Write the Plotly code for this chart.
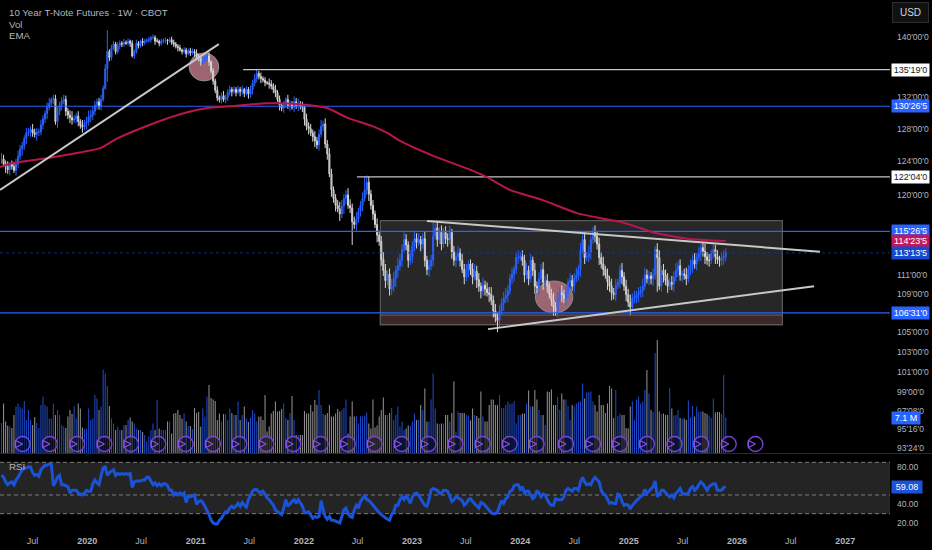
import math
import pandas as pd
import plotly.graph_objects as go

CLOSE = [124.3,123.7,123.4,123.0,123.6,123.4,122.9,123.7,124.6,125.5,
125.9,126.8,127.5,127.6,127.9, 127.5,127.3,127.6,127.6,128.5, 129.2,129.9,130.7,131.2,131.7,
131.8,128.9,130.2,131,131.5, 131.7,130.2,129.7,129.4,129.1, 129.2,129.6,128.9,128.4,
128.2,128.7,128.9,129.5,129.7, 130.2,131,131.4,130.8,131.7, 133.1,135.7,138,137.2,138.5,
139,138,138.8,139.1,139, 139.2,139.1,139.4,139.1, 137.4,138,139.1,138.8,139.4,
139.2,139.4,139.5,139.6,139.9, 139.9,139.4,139.4,139.1,139.4, 139.5,139.5,139.4,139.6,139.2,
139,138.7,138.5,138.2, 138,138.2,137.7,138.1,137.8, 138,137.8,137.4,137.1,136.6,
136.8,137.1,137.4,136.6,135.4, 134.1,132.9,131.9,131.7,132.2, 131.7,131.9,132.6,133,
132.7,133,132.6,133,132.7, 133,132.5,133,132.4,133, 133.8,134.4,135.1,134.7,134.4,
134.2,133.9,133.8,133.7,133.4, 133,132.6,131.7,131, 130.6,131.1,131.7,130.9,131.1,
130.7,131.4,130.9,131.2,130.9, 130.7,129.2,128.3,128,127.5, 127,126.5,126,127.3,128.3,
128.6,126.1,124.9,122.5, 120.6,119.6,118.8,118.4,117.8, 118.7,119.6,120,118.8,118.5,
116.9,116.6,117.2,118.1,118.8, 119.6,120.6,121.5,120.1,118.8, 117.8,116.6,115.4,114.7,
112.7,111.5,110.4,111.1,109.5, 109.8,110.6,111.5,112,112.6, 113.8,114.9,114.3,112.6,113,
114.2,115,114.6,114.9,114.4, 115,112.6,111.6,112, 112.6,115.3,116.2,114.9,115.7,
114.4,115.7,115,114.9,115.7, 113.5,112.6,113,113.4,112.6, 111.6,110.8,111.4,112.2,111.6,
110.8,111.4,110.5,109.8, 109.3,109.9,109.5,109.1,108.9, 108.3,107.2,106.6,106.2,107.2,
108,108.5,108.8,109.3,110.6, 111.1,111.6,112.9,112.9,113, 112.6,111,111.5,110.6,
112.6,111.5,109.8,109.6,110.6, 111.6,110.2,110.4,109.8,108.9, 108.3,107.6,107.2,108.5,109.1,
108.9,108.5,109.1,110.2,110.4, 109.8,110.6,111,111.6, 113.8,114.9,112.9,113,113.5,
114.9,115.7,115.3,114.4,112.9, 112.2,111.6,111,110.3,109.8, 109.1,108.9,109.9,110.2,111.5,
110.8,109.8,108.9,108.1, 107.6,108.5,108.6,108.9,109.1, 109.3,109.8,111,110.6,110.9,
110.6,111,113.8,112.9,109.8, 111.5,111,110.4,109.8,110.2, 110,110.8,111.5,112,
111,111.1,111,110.6,111.6, 112,112.6,112.2,112.9,113.4, 114,113.6,113,112.6,112.6,
113.4,113.8,113,112.7,112.6, 112.9,113.0,113.42]

# Upper and lower wick length of each week, in tenths of a point
HIGH_TENTHS = ("75463546755465475546546735564565468"
               "54637468765456465344354353424353243"
               "34243423342344334243344353453452435"
               "34644534353524354643534265463524365"
               "47563547564756847576456875687568457"
               "58756475687468759768647586746857685"
               "76857684768576845786748576857465786"
               "57468576857485768574685768574866857"
               "68574685768476857468576857465886547"
               "46857685768574685768574685748574675")
LOW_TENTHS = ("64857436548574654854657456485746576"
              "45647485765645364543435442352434353"
              "23435243345234352435243534534453544"
              "45354463526453657454635264563746547"
              "36475685746857465748574859746857467"
              "46857485768574698574685767485768574"
              "85746857685748576849685748576974857"
              "46857468574685768574695748576857468"
              "57468576857496857468575845685745768"
              "57468574685768574685749685746857685")

WICK_DATES = ["2020-03-09","2022-06-13","2022-07-25","2021-07-26","2023-10-16","2025-04-07","2022-10-24","2023-03-13","2020-03-02"]
WICK_HIGH = [140.9,None,122.2,135.6,None,114.5,None,116.8,None]
WICK_LOW = [134.0,114.3,None,None,105.0,109.2,108.9,None,133.0]

VOLUME = [6.0,9.9,6.3,5.5,5.3,5.0,7.6,9.3,9.9,9.2,8.9,10.4,6.6,8.6,6.6,5.6,7.2,6.0,5.0,9.6,11.3,9.6,9.3,6.9,6.9,
9.9,7.6,8.6,7.6,5.6,5.3,5.0,7.3,8.6,7.8,9.4,6.9,9.9,8.9,5.1,4.8,4.9,8.9,6.6,6.9,11.6,10.9,8.6,9.3,16.7,
15.9,13.4,9.4,6.9,5.9,4.6,5.3,4.6,4.6,5.6,5.6,6.6,7.1,6.3,5.9,4.9,4.6,4.6,4.2,3.6,2.3,3.3,4.6,5.9,4.6,
10.6,4.9,4.6,4.6,4.6,6.3,6.3,3.9,7.9,8.0,8.6,7.6,6.9,7.9,6.3,5.4,5.4,4.8,9.0,8.0,8.2,5.3,8.9,7.3,11.3,
13.6,11.0,10.7,10.4,6.6,7.9,6.3,7.8,7.8,6.6,8.9,8.0,7.6,7.6,10.3,6.6,7.6,9.3,6.9,6.2,7.1,8.6,7.9,6.3,7.3,
7.3,6.6,11.6,4.3,5.3,7.9,8.4,10.3,8.3,8.4,8.8,9.9,7.0,6.6,8.0,11.4,6.6,3.6,3.6,3.6,3.6,8.4,7.9,7.9,9.6,
8.3,10.6,9.6,12.6,9.6,7.8,7.6,8.0,9.6,7.3,7.3,7.9,8.8,8.3,8.6,9.0,10.7,3.9,7.3,10.3,7.3,7.4,5.9,7.4,7.3,
7.5,8.1,5.9,4.9,10.7,5.1,5.5,7.3,8.6,11.1,7.6,7.6,8.0,9.0,6.6,7.6,9.3,5.3,6.3,4.6,4.9,5.5,5.4,6.3,7.9,
6.6,6.6,9.6,8.6,12.9,6.3,6.3,10.7,15.9,8.9,5.9,5.8,5.9,5.9,7.6,7.6,6.3,8.0,14.3,4.3,8.3,8.0,8.0,8.0,
7.6,7.5,6.5,8.9,7.6,7.4,7.0,12.3,7.3,6.3,6.3,9.6,10.7,10.7,9.6,9.6,11.6,9.0,9.0,9.6,10.3,9.9,9.9,10.4,5.9,
7.6,7.6,7.9,7.9,9.9,12.5,9.3,9.3,12.6,10.7,8.6,7.6,7.6,5.6,12.3,12.2,12.7,9.6,9.6,11.2,8.6,11.9,10.7,10.7,9.4,
6.6,9.6,9.3,9.9,10.2,10.3,13.9,10.9,12.1,12.2,12.3,10.3,9.6,8.3,11.6,9.6,9.6,8.0,9.9,13.4,12.9,7.0,12.6,7.4,7.9,
7.6,7.6,5.0,4.9,9.3,10.3,6.6,10.7,11.3,9.9,10.3,12.6,16.6,11.9,8.6,8.2,20.0,22.6,8.3,7.8,7.9,7.6,7.6,13.0,8.9,
7.5,7.6,8.6,7.0,6.9,6.9,6.6,10.5,7.1,9.4,7.3,9.3,8.3,8.3,8.3,8.0,7.8,7.4,7.0,10.9,8.1,8.2,8.2,7.8,15.6,7.1]

RSI = [71.4,69,64,61,63,64,61,66,69,73,77,79,79,80,80,74,71,72,70,77,80,82,82,83,83,60,64,69,71,61,61,60,59,52,55,55,55,52,51,50,
52,55,54,54,62,66,63,61,71,79,80,71,74,76,77,71,73,72,73,72,73,72,73,58,64,65,65,65,66,66,69,69,65,61,63,60,62,60,62,62,
60,55,55,50,52,50,52,50,52,42,49,48,49,50,40,43,44,42,38,34,29,23,20,19,19,23,25,29,32,32,36,38,36,38,41,38,42,39,37,45,
50,54,56,56,53,53,54,50,47,45,42,39,34,32,30,29,36,45,38,41,43,45,41,45,42,38,31,31,32,29,25,27,26,27,44,34,27,24,27,23,
23,22,21,20,27,34,36,30,27,26,34,39,36,43,46,50,45,44,42,39,36,33,31,29,27,26,24,23,29,32,39,39,45,48,45,50,45,41,48,51,
52,50,46,43,39,38,45,55,57,56,55,52,52,55,55,54,48,43,45,48,47,45,44,39,41,45,46,43,41,38,36,42,41,39,36,34,31,30,30,32,
39,44,41,46,48,54,55,60,61,61,56,59,52,54,54,50,46,48,55,52,48,51,50,45,41,39,39,46,45,45,45,48,55,57,55,54,57,57,55,64,
69,64,61,62,61,66,69,66,64,55,51,50,45,41,42,41,41,51,50,43,39,40,39,35,39,42,44,46,48,50,56,52,54,56,59,65,48,51,55,55,
52,50,48,50,47,52,54,57,52,51,51,52,57,59,55,57,61,64,62,59,55,59,61,62,62,55,55,55,58,59.08]

EMA_DATES = ["2019-03-13","2019-04-25","2019-08-05","2019-10-25","2020-02-14","2020-04-12","2020-07-31","2020-10-30",
"2021-02-10","2021-05-08","2021-08-29","2021-12-19","2022-01-22","2022-03-20","2022-05-27","2022-08-22","2022-10-08",
"2022-11-21","2023-03-18","2023-07-15","2023-09-10","2023-11-26","2024-03-17","2024-07-10","2024-09-16","2024-12-03",
"2025-02-08","2025-03-24","2025-07-16","2025-11-24"]
EMA_VALUES = [123.3,123.8,124.3,124.8,125.6,126.8,128.5,129.7,130.6,130.85,131.2,131.1,130.95,130.6,129.4,128.3,127.5,
126.5,124.6,123.0,122.1,120.6,119.4,117.9,117.4,116.9,116.2,115.7,115.0,114.73]

LEVELS_BLUE = [130.83, 115.83, 106.97]
LEVEL_LAST = 113.42
WHITE_LEVELS = [("2021-06-10", 135.59), ("2022-06-29", 122.125)]
TREND_LINES = [(("2019-03-13", 120.6), ("2021-03-20", 139.0)),
               (("2023-02-20", 117.0), ("2026-10-08", 113.55)),
               (("2023-09-14", 105.3), ("2026-09-18", 109.8))]
BOX = ("2022-09-16", "2026-06-03", 117.03, 105.77)
BOX_LOW_TOP = 106.75
CIRCLES = [("2020-12-10", "2021-03-20", 137.8, 134.1), ("2024-02-21", "2024-06-26", 110.35, 106.96)]
PURPLE_DATES = ["2019-05-28","2019-08-28","2019-11-28","2020-02-28","2020-05-28","2020-08-28","2020-11-28","2021-02-28",
"2021-05-28","2021-08-27","2021-11-26","2022-02-26","2022-05-29","2022-08-27","2022-11-27","2023-02-25","2023-05-27",
"2023-08-27","2023-11-26","2024-02-25","2024-06-03","2024-09-02","2024-12-02","2025-03-03","2025-06-04","2025-09-02",
"2025-12-04","2026-03-04"]

X_TICKS = ["2019-07-01","2020-01-01","2020-07-01","2021-01-01","2021-07-01","2022-01-01","2022-07-01","2023-01-01",
"2023-07-01","2024-01-01","2024-07-01","2025-01-01","2025-07-01","2026-01-01","2026-07-01","2027-01-01"]
X_LABELS = ["Jul","<b>2020</b>","Jul","<b>2021</b>","Jul","<b>2022</b>","Jul","<b>2023</b>","Jul","<b>2024</b>","Jul","<b>2025</b>","Jul","<b>2026</b>","Jul","<b>2027</b>"]
Y_TICKS = [140,132,128,124,120,111,109,105,103,101,99,97.25,95.5,93.75]
Y_LABELS = ["140'00'0","132'00'0","128'00'0","124'00'0","120'00'0","111'00'0","109'00'0","105'00'0","103'00'0","101'00'0","99'00'0","97'08'0","95'16'0","93'24'0"]
PRICE_TAGS = [(135.59,"135'19'0","#ffffff","#131722"),(130.83,"130'26'5","#2962ff","#ffffff"),(122.125,"122'04'0","#ffffff","#131722"),
(115.83,"115'26'5","#2962ff","#ffffff"),(114.73,"114'23'5","#c2185b","#ffffff"),(113.42,"113'13'5","#1848cc","#ffffff"),(106.97,"106'31'0","#2962ff","#ffffff")]

FONT = "Liberation Sans"
TXT = "#b2b5be"
BLUE = "#2962ff"
XR = ["2019-03-13", "2027-06-01"]
W, H = 932, 550
RIGHT = 890

n = min(len(CLOSE), len(VOLUME), len(RSI))
CLOSE, VOLUME, RSI = CLOSE[-n:], VOLUME[-n:], RSI[-n:]
dates = pd.date_range(end="2025-11-24", periods=n, freq="7D")
opens = [CLOSE[0]] + CLOSE[:-1]
highs = [max(a, b) + int(HIGH_TENTHS[i % len(HIGH_TENTHS)]) * 0.1 for i, (a, b) in enumerate(zip(opens, CLOSE))]
lows = [min(a, b) - int(LOW_TENTHS[i % len(LOW_TENTHS)]) * 0.1 for i, (a, b) in enumerate(zip(opens, CLOSE))]
for d, hi, lo in zip(WICK_DATES, WICK_HIGH, WICK_LOW):
    i = min(int(dates.searchsorted(pd.Timestamp(d))), n - 1)
    if hi is not None:
        highs[i] = hi
    if lo is not None:
        lows[i] = lo

fig = go.Figure()

def py(px):
    return 1 - px / H

fig.add_trace(go.Candlestick(x=dates, open=opens, high=highs, low=lows, close=CLOSE,
    increasing=dict(line=dict(color=BLUE, width=1), fillcolor=BLUE),
    decreasing=dict(line=dict(color="#d8d8d8", width=1), fillcolor="#8f8f8f"),
    whiskerwidth=0, hoverinfo="skip", showlegend=False))

for v in LEVELS_BLUE:
    fig.add_trace(go.Scatter(x=XR, y=[v, v], mode="lines", line=dict(color="#2962ff", width=1.2), hoverinfo="skip", showlegend=False))
fig.add_trace(go.Scatter(x=XR, y=[LEVEL_LAST, LEVEL_LAST], mode="lines", line=dict(color="#17398f", width=0.8, dash="dot"), hoverinfo="skip", showlegend=False))
for d, v in WHITE_LEVELS:
    fig.add_trace(go.Scatter(x=[d, XR[1]], y=[v, v], mode="lines", line=dict(color="#c4c4c4", width=1.2), hoverinfo="skip", showlegend=False))
fig.add_trace(go.Scatter(x=EMA_DATES, y=EMA_VALUES, mode="lines", line=dict(color="#b9154f", width=2, shape="spline", smoothing=0.6), hoverinfo="skip", showlegend=False))
for (a, b) in TREND_LINES:
    fig.add_trace(go.Scatter(x=[a[0], b[0]], y=[a[1], b[1]], mode="lines", line=dict(color="#c8c8c8", width=2), hoverinfo="skip", showlegend=False))

vol_colors = ["#1c48c4" if c >= o else "#8c8c8c" for o, c in zip(opens, CLOSE)]
fig.add_trace(go.Bar(x=dates, y=VOLUME, yaxis="y2", marker=dict(color=vol_colors, line=dict(width=0)),
    width=3.6 * 86400000, hoverinfo="skip", showlegend=False))
fig.add_trace(go.Scatter(x=PURPLE_DATES, y=[1.8] * len(PURPLE_DATES), yaxis="y2", mode="markers",
    marker=dict(symbol="circle", size=15, color="rgba(0,0,0,0.45)", line=dict(color="#7a42d8", width=1.3)),
    hoverinfo="skip", showlegend=False))
fig.add_trace(go.Scatter(x=PURPLE_DATES, y=[1.8] * len(PURPLE_DATES), yaxis="y2", mode="markers",
    marker=dict(symbol="arrow-right-open", size=7, color="#8a50ea", line=dict(color="#8a50ea", width=1.2)),
    hoverinfo="skip", showlegend=False))

for v in [85, 50, 30]:
    fig.add_trace(go.Scatter(x=XR, y=[v, v], xaxis="x2", yaxis="y3", mode="lines",
        line=dict(color="#7c7c7c", width=1, dash="4px,3px"), hoverinfo="skip", showlegend=False))
fig.add_trace(go.Scatter(x=dates, y=RSI, xaxis="x2", yaxis="y3", mode="lines",
    line=dict(color="#1a52d8", width=3), hoverinfo="skip", showlegend=False))

shapes = [
    dict(type="rect", xref="x", yref="y", x0=BOX[0], x1=BOX[1], y0=BOX[3], y1=BOX[2], fillcolor="#272727", line=dict(color="#5a5a5a", width=1.2), layer="below"),
    dict(type="rect", xref="x", yref="y", x0=BOX[0], x1=BOX[1], y0=BOX[3], y1=BOX_LOW_TOP, fillcolor="#3e2728", line=dict(color="#5a5a5a", width=1.2), layer="below"),
    dict(type="rect", xref="x2", yref="y3", x0=XR[0], x1=XR[1], y0=30, y1=85, fillcolor="#242424", line=dict(width=0), layer="below"),
    dict(type="line", xref="paper", yref="paper", x0=0, x1=1, y0=py(453.5), y1=py(453.5), line=dict(color="#2a2a2a", width=1)),
]
for c in CIRCLES:
    shapes.append(dict(type="circle", xref="x", yref="y", x0=c[0], x1=c[1], y0=c[3], y1=c[2],
        fillcolor="#9d6570", line=dict(color="#8f8f8f", width=1), layer="below"))

ann = []
def add_text(txt, px, pyy, size=9.7, color=TXT):
    ann.append(dict(text=txt, xref="paper", yref="paper", x=px / W, y=py(pyy), xanchor="left", yanchor="middle",
        showarrow=False, font=dict(family=FONT, size=size, color=color)))
add_text("10 Year T-Note Futures · 1W · CBOT", 7, 12)
add_text("Vol", 7, 24)
add_text("EMA", 7, 36)
add_text("RSI", 7, 466)

def tag(txt, yref, y, bg, fg, width=37):
    ann.append(dict(text=txt, xref="paper", yref=yref, x=891 / W, y=y, xanchor="left", yanchor="middle", showarrow=False,
        bgcolor=bg, width=width, height=12, borderpad=0, align="center", font=dict(family=FONT, size=9, color=fg)))
for v, t, bg, fg in PRICE_TAGS:
    tag(t, "y", math.log10(v), bg, fg)
tag("7.1 M", "y2", 7.1, "#2962ff", "#ffffff", 28)
tag("59.08", "y3", 59.08, "#1a52d8", "#ffffff", 30)
ann.append(dict(text="USD", xref="paper", yref="paper", x=910.5 / W, y=py(12.5), xanchor="center", yanchor="middle", showarrow=False,
    bgcolor="#111111", bordercolor="#2e2e2e", borderwidth=1, width=33, height=17, font=dict(family=FONT, size=10, color="#d1d4dc")))

fig.update_layout(
    width=W, height=H, margin=dict(l=0, r=0, t=0, b=0), autosize=False,
    paper_bgcolor="#000000", plot_bgcolor="#000000", showlegend=False, hovermode=False, dragmode=False,
    barmode="overlay", shapes=shapes, annotations=ann,
    xaxis=dict(domain=[0, RIGHT / W], range=XR, type="date", anchor="y", showgrid=False, zeroline=False, showticklabels=False,
        ticks="", showline=False, rangeslider=dict(visible=False)),
    xaxis2=dict(domain=[0, RIGHT / W], range=XR, type="date", anchor="y3", showgrid=False, zeroline=False, tickmode="array",
        tickvals=X_TICKS, ticktext=X_LABELS, ticks="", showline=False, ticklabelstandoff=7, tickfont=dict(family=FONT, size=9, color=TXT)),
    yaxis=dict(domain=[py(453), 1], type="log", range=[math.log10(93.33), math.log10(145.1)], side="right", anchor="x", showgrid=False,
        zeroline=False, tickmode="array", tickvals=Y_TICKS, ticktext=Y_LABELS, ticks="", showline=False, ticklabelstandoff=6,
        tickfont=dict(family=FONT, size=8.5, color=TXT)),
    yaxis2=dict(overlaying="y", range=[0, 90.6], side="right", anchor="x", showgrid=False, zeroline=False, showticklabels=False, ticks="", showline=False),
    yaxis3=dict(domain=[py(527), py(455)], range=[15.7, 92.86], side="right", anchor="x2", showgrid=False, zeroline=False, tickmode="array",
        tickvals=[80, 40, 20], ticktext=["80.00", "40.00", "20.00"], ticks="", showline=False, ticklabelstandoff=6,
        tickfont=dict(family=FONT, size=8.5, color=TXT)),
)
fig.write_html("out.html", config=dict(displayModeBar=False, staticPlot=True),
    post_script="document.body.style.margin='0';document.body.style.background='#000';")
